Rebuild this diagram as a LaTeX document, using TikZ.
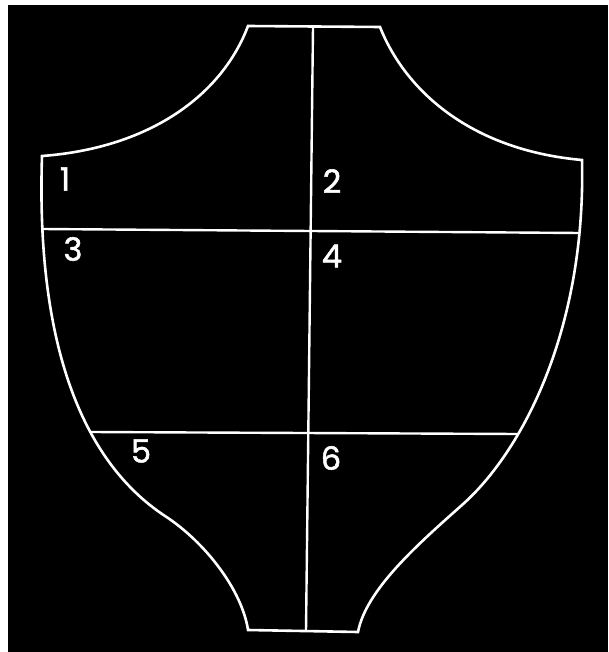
\documentclass[tikz,border=0pt]{standalone}
\usepackage{fontspec}
\setmainfont{Poppins}
\newfontfamily\numfont{Poppins}[FakeBold=1.6]

\begin{document}
\begin{tikzpicture}[
    % satu satuan = satu piksel, sumbu y ke bawah
    x=1pt, y=-1pt,
    % Definisi gaya untuk garis tepi perisai
    outline/.style={
        draw=white,
        line width=2.6pt,
        line join=miter
    },
    % Definisi gaya untuk garis pembagi
    divider/.style={
        draw=white,
        line width=2.4pt
    },
    % Definisi gaya untuk nomor bagian
    num_label/.style={
        text=white,
        inner sep=0pt,
        font=\numfont\fontsize{32}{32}\selectfont
    }
]

% =====================================================================
% LATAR
% =====================================================================
\useasboundingbox (0,0) rectangle (608,652);
\fill[white] (0,0) rectangle (608,652);
\fill[black] (8,5) rectangle (608,652);

% =====================================================================
% TITIK SUDUT
% =====================================================================
\coordinate (top_l) at (248,26);
\coordinate (top_r) at (380,27);
\coordinate (up_l) at (42,156);
\coordinate (up_r) at (582,160);
\coordinate (mid_l) at (165,516);
\coordinate (mid_r) at (462,505);
\coordinate (bot_l) at (248,630);
\coordinate (bot_r) at (358,632);
\coordinate (top_c) at (313,27);
\coordinate (bot_c) at (306,631);
\coordinate (row1_l) at (42,229);
\coordinate (row1_r) at (580,233);
\coordinate (row2_l) at (91,432);
\coordinate (row2_r) at (518,434);

% =====================================================================
% GARIS TEPI
% =====================================================================
\draw [outline] (top_l) -- (top_r)
    .. controls (405,90) and (470,150) .. (up_r)
    .. controls (586,330) and (522,452) .. (mid_r)
    .. controls (417,545) and (366,590) .. (bot_r)
    -- (bot_l)
    .. controls (242,590) and (205,542) .. (mid_l)
    .. controls (80,460) and (36,340) .. (up_l)
    .. controls (150,148) and (222,95) .. (top_l) -- cycle;

% =====================================================================
% GARIS PEMBAGI
% =====================================================================
\draw [divider] (top_c) -- (bot_c);
\draw [divider] (row1_l) -- (row1_r);
\draw [divider] (row2_l) -- (row2_r);

% =====================================================================
% NOMOR BAGIAN
% =====================================================================
\node (n1) [num_label] at (65,179) {1};
\node (n2) [num_label] at (332,181) {2};
\node (n3) [num_label] at (73,249) {3};
\node (n4) [num_label] at (332,256) {4};
\node (n5) [num_label] at (141,451) {5};
\node (n6) [num_label] at (331,458) {6};

\end{tikzpicture}
\end{document}
